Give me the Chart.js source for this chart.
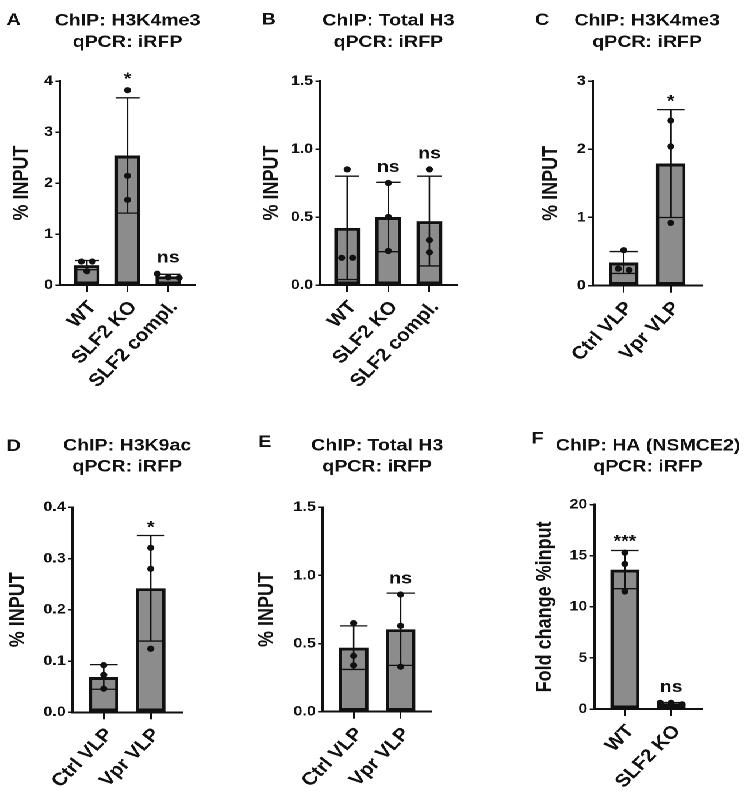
<!DOCTYPE html>
<html>
<head>
<meta charset="utf-8">
<script src="https://cdn.jsdelivr.net/npm/chart.js@4.4.1/dist/chart.umd.min.js"></script>
<style>
  html, body { margin: 0; padding: 0; background: #fff; overflow: hidden; }
  /* the original figure is stretched sideways, so draw narrow and widen */
  #fig { position: relative; width: 649px; height: 798px; transform: scaleX(1.15); transform-origin: 0 0; }
  #fig canvas { position: absolute; }
</style>
</head>
<body>
<div id="fig">
  <canvas id="panelA"></canvas>
  <canvas id="panelB"></canvas>
  <canvas id="panelC"></canvas>
  <canvas id="panelD"></canvas>
  <canvas id="panelE"></canvas>
  <canvas id="panelF"></canvas>
</div>
<script>
// A: H3K4me3, SLF2 lines
const catsA = ['WT', 'SLF2 KO', 'SLF2 compl.'];
const meanA = [0.39, 2.54, 0.17];
const sdA = [0.09, 1.13, 0.04];
const dotsA = [[0.46, 0.46, 0.27], [3.82, 2.14, 1.67], [0.22, 0.15, 0.14]];
const sigA = ['', '*', 'ns'];
const yTicksA = ['0', '1', '2', '3', '4'];

// B: total H3, SLF2 lines
const catsB = ['WT', 'SLF2 KO', 'SLF2 compl.'];
const meanB = [0.42, 0.50, 0.47];
const sdB = [0.38, 0.255, 0.33];
const dotsB = [[0.85, 0.20, 0.20], [0.75, 0.50, 0.25], [0.85, 0.33, 0.24]];
const sigB = ['', 'ns', 'ns'];
const yTicksB = ['0.0', '0.5', '1.0', '1.5'];

// C: H3K4me3, VLP
const catsC = ['Ctrl VLP', 'Vpr VLP'];
const meanC = [0.34, 1.79];
const sdC = [0.16, 0.79];
const dotsC = [[0.52, 0.23, 0.25], [2.42, 2.04, 0.92]];
const sigC = ['', '*'];
const yTicksC = ['0', '1', '2', '3'];

// D: H3K9ac, VLP
const catsD = ['Ctrl VLP', 'Vpr VLP'];
const meanD = [0.069, 0.242];
const sdD = [0.024, 0.103];
const dotsD = [[0.092, 0.073, 0.046], [0.321, 0.28, 0.124]];
const sigD = ['', '*'];
const yTicksD = ['0.0', '0.1', '0.2', '0.3', '0.4'];

// E: total H3, VLP
const catsE = ['Ctrl VLP', 'Vpr VLP'];
const meanE = [0.47, 0.605];
const sdE = [0.16, 0.265];
const dotsE = [[0.65, 0.41, 0.34], [0.86, 0.63, 0.33]];
const sigE = ['', 'ns'];
const yTicksE = ['0.0', '0.5', '1.0', '1.5'];

// F: HA (NSMCE2)
const catsF = ['WT', 'SLF2 KO'];
const meanF = [13.65, 0.55];
const sdF = [1.87, 0.08];
const dotsF = [[15.3, 14.2, 11.5], [0.6, 0.6, 0.45]];
const sigF = ['***', 'ns'];
const yTicksF = ['0', '5', '10', '15', '20'];

const FONT = '"Liberation Sans", Arial, Helvetica, sans-serif';
Chart.defaults.font.family = FONT;
Chart.defaults.font.weight = 'bold';
Chart.defaults.color = '#111';

// layout of each panel (unstretched px): canvas box, plot area [l, t, r, b]
const panels = [
  { id: 'panelA', letter: 'A', title: ['ChIP: H3K4me3', 'qPCR: iRFP'], yTitle: '% INPUT',
    cats: catsA, mean: meanA, sd: sdA, dots: dotsA, sig: sigA, yTicks: yTicksA,
    left: 0, top: 0, w: 216, h: 398, area: [52.2, 81, 169.6, 285], yTitleX: 19.1, letterPos: [5.8, 25], titleY: [20.8, 42.5] },
  { id: 'panelB', letter: 'B', title: ['ChIP: Total H3', 'qPCR: iRFP'], yTitle: '% INPUT',
    cats: catsB, mean: meanB, sd: sdB, dots: dotsB, sig: sigB, yTicks: yTicksB,
    left: 216, top: 0, w: 216, h: 398, area: [278.3, 81, 397.1, 285], yTitleX: 236.3, letterPos: [227.5, 24.5], titleY: [20.8, 42.5] },
  { id: 'panelC', letter: 'C', title: ['ChIP: H3K4me3', 'qPCR: iRFP'], yTitle: '% INPUT',
    cats: catsC, mean: meanC, sd: sdC, dots: dotsC, sig: sigC, yTicks: yTicksC,
    left: 432, top: 0, w: 217, h: 398, area: [515.4, 81, 610.2, 285.7], yTitleX: 479.7, letterPos: [465.2, 25], titleY: [20.8, 42.5] },
  { id: 'panelD', letter: 'D', title: ['ChIP: H3K9ac', 'qPCR: iRFP'], yTitle: '% INPUT',
    cats: catsD, mean: meanD, sd: sdD, dots: dotsD, sig: sigD, yTicks: yTicksD,
    left: 0, top: 398, w: 216, h: 400, area: [63.2, 507.3, 158.0, 712.3], yTitleX: 15.9, letterPos: [5.8, 451], titleY: [446, 467] },
  { id: 'panelE', letter: 'E', title: ['ChIP: Total H3', 'qPCR: iRFP'], yTitle: '% INPUT',
    cats: catsE, mean: meanE, sd: sdE, dots: dotsE, sig: sigE, yTicks: yTicksE,
    left: 216, top: 398, w: 216, h: 400, area: [280.6, 507.3, 375.4, 711.7], yTitleX: 232.6, letterPos: [224.6, 447], titleY: [446, 467] },
  { id: 'panelF', letter: 'F', title: ['ChIP: HA (NSMCE2)', 'qPCR: iRFP'], yTitle: 'Fold change %input',
    cats: catsF, mean: meanF, sd: sdF, dots: dotsF, sig: sigF, yTicks: yTicksF,
    left: 432, top: 398, w: 217, h: 400, area: [516.8, 504.7, 610.2, 709], yTitleX: 473.9, letterPos: [462.3, 443.5], titleY: [446, 467] }
];

// push apart dots that sit at nearly the same height
function spreadDots(py, r, gap) {
  const order = py.map((v, k) => k).sort((a, b) => py[a] - py[b]);
  const off = py.map(() => 0);
  let group = [order[0]];
  const flush = () => group.forEach((k, j) => { off[k] = (j - (group.length - 1) / 2) * gap; });
  for (let j = 1; j < order.length; j++) {
    if (py[order[j]] - py[order[j - 1]] < 2 * r + 1) {
      group.push(order[j]);
    } else {
      flush();
      group = [order[j]];
    }
  }
  flush();
  return off;
}

function markers(p) {
  return {
    id: 'markers',
    afterDatasetsDraw(chart) {
      const { ctx, scales: { x, y } } = chart;
      const bars = chart.getDatasetMeta(0).data;
      const r = 3.1;
      ctx.save();
      ctx.strokeStyle = '#111';
      ctx.fillStyle = '#111';
      ctx.lineWidth = 1.3;
      p.mean.forEach((m, i) => {
        const cx = x.getPixelForValue(i);
        const cap = bars[i].width * 0.47;
        const hi = y.getPixelForValue(m + p.sd[i]);
        const lo = y.getPixelForValue(m - p.sd[i]);
        ctx.beginPath();
        ctx.moveTo(cx, hi); ctx.lineTo(cx, lo);
        ctx.moveTo(cx - cap, hi); ctx.lineTo(cx + cap, hi);
        ctx.moveTo(cx - cap, lo); ctx.lineTo(cx + cap, lo);
        ctx.stroke();

        const py = p.dots[i].map(v => y.getPixelForValue(v));
        const off = spreadDots(py, r, 9.5);
        py.forEach((yy, k) => {
          ctx.beginPath();
          ctx.arc(cx + off[k], yy, r, 0, Math.PI * 2);
          ctx.fill();
        });

        if (p.sig[i]) {
          const top = Math.min(hi, ...py.map(v => v - r));
          ctx.font = 'bold 17px ' + FONT;
          ctx.textAlign = 'center';
          ctx.textBaseline = 'alphabetic';
          const mt = ctx.measureText(p.sig[i]);
          ctx.fillText(p.sig[i], cx, top - 8 - mt.actualBoundingBoxDescent);
        }
      });
      ctx.restore();
    },
    afterDraw(chart) {
      const { ctx, chartArea } = chart;
      const x = chart.scales.x;
      ctx.save();
      ctx.fillStyle = '#111';
      ctx.font = 'bold 17px ' + FONT;
      ctx.textAlign = 'center';
      ctx.textBaseline = 'middle';
      const mid = (chartArea.left + chartArea.right) / 2;
      p.title.forEach((line, k) => ctx.fillText(line, mid, p.titleY[k] - p.top));
      ctx.textAlign = 'left';
      ctx.textBaseline = 'alphabetic';
      ctx.fillText(p.letter, p.letterPos[0] - p.left, p.letterPos[1] - p.top);

      // category names, slanted; 49 deg here reads as 45 deg once widened
      const ang = 49 * Math.PI / 180;
      ctx.font = 'bold 18px ' + FONT;
      ctx.textAlign = 'right';
      ctx.textBaseline = 'middle';
      p.cats.forEach((c, i) => {
        ctx.save();
        ctx.translate(x.getPixelForValue(i) + 5, chartArea.bottom + 19);
        ctx.rotate(-ang);
        ctx.fillText(c, 0, 0);
        ctx.restore();
      });
      ctx.restore();
    }
  };
}

function drawPanel(p) {
  const canvas = document.getElementById(p.id);
  canvas.width = p.w;
  canvas.height = p.h;
  canvas.style.left = p.left + 'px';
  canvas.style.top = p.top + 'px';
  canvas.style.width = p.w + 'px';
  canvas.style.height = p.h + 'px';

  const padLeft = p.yTitleX - p.left - 10.8;
  const yVals = p.yTicks.map(Number);
  const n = p.cats.length;
  const axisGrid = (len) => ({ offset: false, drawOnChartArea: false, drawTicks: true, tickLength: len, color: '#111', lineWidth: 1.5 });

  new Chart(canvas, {
    type: 'bar',
    data: {
      datasets: [{
        data: p.mean.map((v, i) => ({ x: i, y: v })),
        backgroundColor: '#8c8c8c',
        borderColor: '#111',
        borderWidth: 3,
        borderSkipped: false,
        barPercentage: 0.63,
        categoryPercentage: 1
      }]
    },
    options: {
      responsive: false,
      animation: false,
      devicePixelRatio: 2,
      layout: { padding: { left: padLeft, right: p.left + p.w - p.area[2], top: p.area[1] - p.top, bottom: 0 } },
      plugins: { legend: { display: false }, tooltip: { enabled: false } },
      scales: {
        x: {
          type: 'linear',
          offset: false,
          bounds: 'data',
          min: -0.66,
          max: n - 1 + 0.66,
          afterBuildTicks: s => { s.ticks = p.cats.map((c, i) => ({ value: i })); },
          afterFit: s => { s.height = p.top + p.h - p.area[3]; },
          ticks: { display: false, autoSkip: false },
          grid: axisGrid(7),
          border: { color: '#111', width: 2 }
        },
        y: {
          min: yVals[0],
          max: yVals[yVals.length - 1],
          afterBuildTicks: s => { s.ticks = yVals.map(v => ({ value: v })); },
          afterFit: s => { s.width = p.area[0] - p.left - padLeft; },
          ticks: {
            callback: (v, i) => p.yTicks[i],
            padding: 2,
            font: { size: 14, weight: 'bold' },
            color: '#111'
          },
          grid: axisGrid(4),
          border: { color: '#111', width: 2 },
          title: {
            display: true,
            text: p.yTitle,
            font: { size: 18, weight: 'bold', lineHeight: 1.2 },
            color: '#111',
            padding: 0
          }
        }
      }
    },
    plugins: [markers(p)]
  });
}

panels.forEach(drawPanel);
</script>
</body>
</html>
